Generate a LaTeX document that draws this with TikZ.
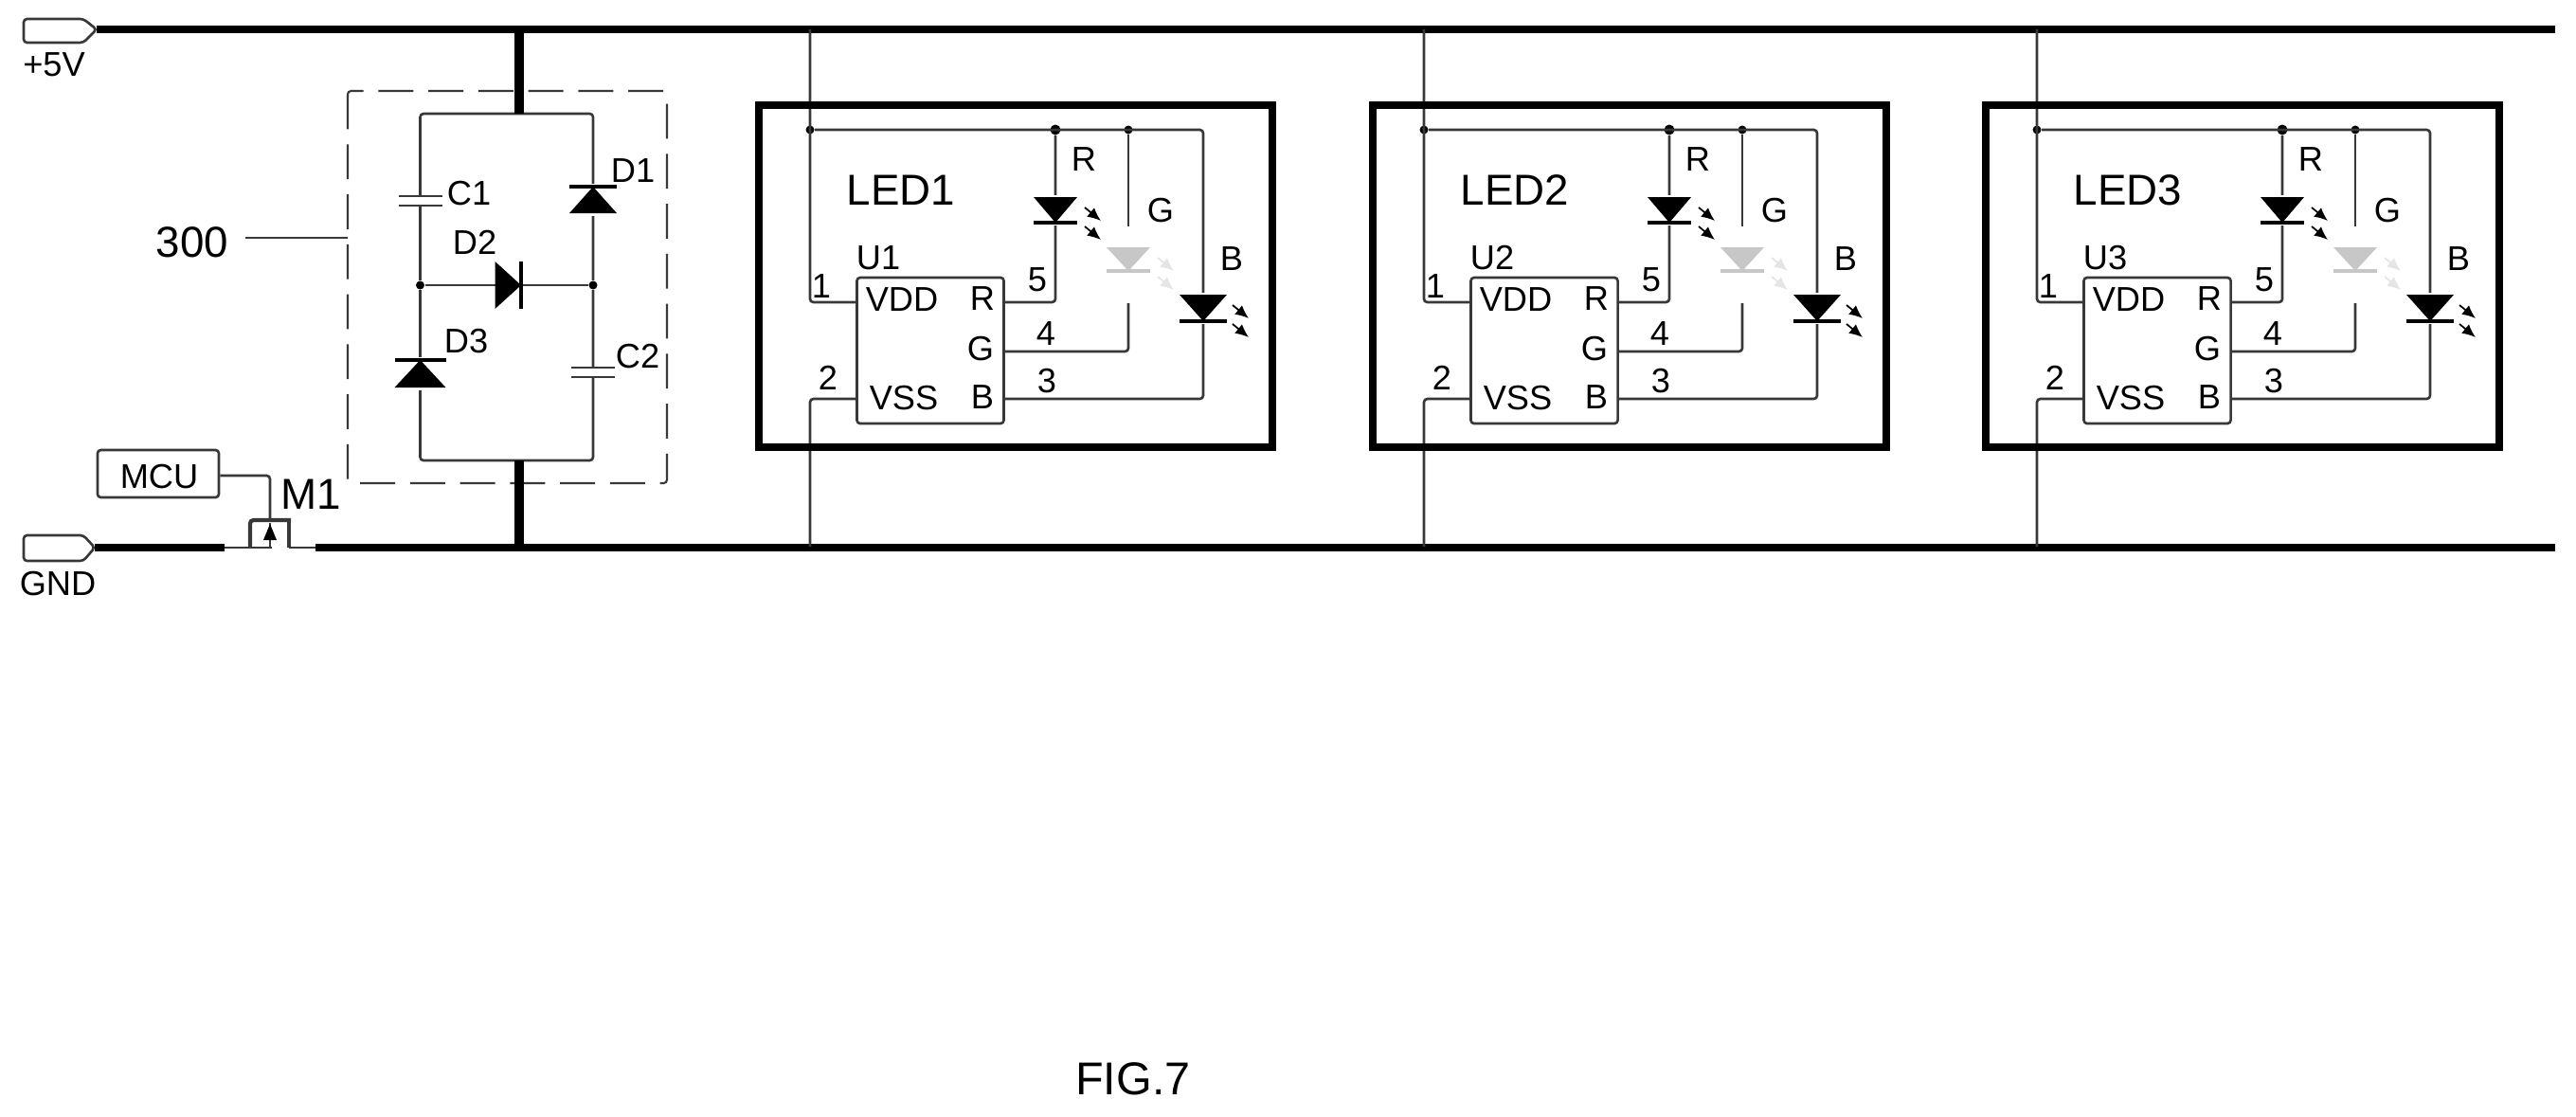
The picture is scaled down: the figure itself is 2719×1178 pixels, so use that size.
\documentclass[tikz,border=0pt]{standalone}
\usepackage{fontspec}
\setmainfont{Liberation Sans}
\usetikzlibrary{arrows.meta}
\colorlet{wirecol}{black!78}
\tikzset{
	wire/.style={draw=wirecol, line width=0.75pt, rounded corners=1pt},
	bus/.style={line width=2.3pt},
	stub/.style={line width=2.9pt},
	dot/.style={circle, fill=black, inner sep=0pt, minimum size=0.09cm},
	cellbox/.style={draw, line width=2.3pt, minimum width=5.42cm, minimum height=3.61cm},
	chip/.style={draw=wirecol, line width=0.75pt, rounded corners=1pt, minimum width=1.55cm, minimum height=1.54cm},
	tagbox/.style={draw=wirecol, line width=0.75pt, rounded corners=1pt},
	lbl/.style={inner sep=0pt, font=\fontsize{10.3}{12}\selectfont},
	biglbl/.style={inner sep=0pt, font=\fontsize{13}{15}\selectfont}
}
\newcommand{\capv}[3] % x, top plate y, bottom plate y
{
	\draw[wirecol, line width=0.75pt] (#1-23,#2) -- (#1+23,#2);
	\draw[wirecol, line width=0.75pt] (#1-23,#3) -- (#1+23,#3);
}
\newcommand{\diodev}[4] % x, bar y, base y, half width
{
	\fill[white] (#1-#4,#2-3) rectangle (#1+#4,#3+3);
	\fill (#1,#2) -- (#1-#4,#3) -- (#1+#4,#3) -- cycle;
	\draw[line width=1.4pt] (#1-#4,#2) -- (#1+#4,#2);
}
\newcommand{\ledsym}[6] % x, base y, bar y, half width, colour, ray colour
{
	\fill[white] (#1-#4,#2-2) rectangle (#1+#4,#3+3);
	\fill[#5] (#1,#3) -- (#1-#4,#2) -- (#1+#4,#2) -- cycle;
	\draw[#5, line width=1.4pt] (#1-#4,#3) -- (#1+#4,#3);
	\draw[#6, line width=0.5pt, -{Latex[length=4pt,width=3.5pt]}] (#1+31,#2+11) -- (#1+48,#2+25);
	\draw[#6, line width=0.5pt, -{Latex[length=4pt,width=3.5pt]}] (#1+31,#2+31) -- (#1+48,#2+45);
}
\newcommand{\ledcell}[2] % x shift, number
{
	% tap points on the rails and chip pins
	\coordinate (top#2) at (#1+855,31);
	\coordinate (bot#2) at (#1+855,577);
	\coordinate (vdd#2) at (#1+905,319);
	\coordinate (vss#2) at (#1+905,421);
	\coordinate (pinr#2) at (#1+1059,319);
	\coordinate (ping#2) at (#1+1059,371);
	\coordinate (pinb#2) at (#1+1059,421);
	\coordinate (corner#2) at (#1+1270,421);
	\coordinate (gup#2) at (#1+1191,239);
	\coordinate (gdn#2) at (#1+1191,320);
	\node[dot] (ja#2) at (#1+855,137) {};
	\node[dot, minimum size=0.11cm] (jb#2) at (#1+1114,137) {};
	\node[dot] (jc#2) at (#1+1191,137) {};
	% wiring
	\draw[wire] (top#2) |- (vdd#2);
	\draw[wire] (bot#2) |- (vss#2);
	\draw[wire] (ja#2) -| (corner#2) -- (pinb#2);
	\draw[wire] (jb#2) |- (pinr#2);
	\draw[wire] (jc#2) -- (gup#2);
	\draw[wire] (gdn#2) |- (ping#2);
	% outer box and chip
	\node[cellbox] (box#2) at (#1+1072,291.5) {};
	\node[chip] (u#2) at (#1+982,370) {};
	% three leds
	\ledsym{#1+1114}{208}{235}{23}{black}{black}
	\ledsym{#1+1191}{261}{286}{23}{black!22}{black!10}
	\ledsym{#1+1270}{311}{339}{25}{black}{black}
	% labels
	\node[biglbl] (name#2) at (#1+951,201) {LED#2};
	\node[lbl] (ulbl#2) at (#1+927,272) {U#2};
	\node[lbl] (lvdd#2) at (#1+952,316) {VDD};
	\node[lbl] (lvss#2) at (#1+954,420) {VSS};
	\node[lbl] (lr#2) at (#1+1037,315) {R};
	\node[lbl] (lg#2) at (#1+1035,368) {G};
	\node[lbl] (lb#2) at (#1+1037,419) {B};
	\node[lbl] (one#2) at (#1+867,302) {1};
	\node[lbl] (two#2) at (#1+874,399) {2};
	\node[lbl] (three#2) at (#1+1105,402) {3};
	\node[lbl] (four#2) at (#1+1104,352) {4};
	\node[lbl] (five#2) at (#1+1095,295) {5};
	\node[lbl] (cr#2) at (#1+1144,168) {R};
	\node[lbl] (cg#2) at (#1+1225,222) {G};
	\node[lbl] (cb#2) at (#1+1300,273) {B};
}
\begin{document}
\begin{tikzpicture}[x=0.01cm, y=-0.01cm]
	\useasboundingbox (0,0) rectangle (2719,1178);

	% supply tags
	\draw[tagbox] (25,20) -- (88,20) -- (102,31) -- (88,45) -- (25,45) -- cycle;
	\draw[tagbox] (25,565) -- (88,565) -- (100,578) -- (88,592) -- (25,592) -- cycle;
	\coordinate (vcc) at (102,31);
	\coordinate (vccend) at (2697,31);
	\coordinate (gnd) at (100,578);
	\coordinate (gndl) at (237,578);
	\coordinate (gndr) at (333,578);
	\coordinate (gndend) at (2697,578);
	\node[lbl] (vcclbl) at (57,68) {+5V};
	\node[lbl] (gndlbl) at (61,616) {GND};

	% rails
	\draw[bus] (vcc) -- (vccend);
	\draw[bus] (gnd) -- (gndl);
	\draw[bus] (gndr) -- (gndend);

	% block 300
	\draw[wirecol, line width=0.6pt, rounded corners=1pt, dash pattern=on 10.5pt off 4.5pt] (367,96) rectangle (704,510);
	\coordinate (stubt) at (548,31);
	\coordinate (stubb) at (548,577);
	\coordinate (nt) at (548,120);
	\coordinate (nb) at (548,486);
	\node[dot] (nl) at (443.5,301) {};
	\node[dot] (nr) at (626,301) {};
	\draw[wire] (nt) -| (nl) |- (nb) -| (nr) |- (nt);
	\draw[wire] (nl) -- (nr);
	\draw[stub] (stubt) -- (nt);
	\draw[stub] (nb) -- (stubb);
	\fill[white] (443.5-3,208) rectangle (443.5+3,216);
	\fill[white] (626-3,389) rectangle (626+3,397);
	\capv{443.5}{207}{217}
	\capv{626}{388}{398}
	\diodev{626}{197}{225}{25}
	\diodev{443.5}{380}{409}{27}
	% D2 lies on its side
	\fill (550,301) -- (522.5,276) -- (522.5,326) -- cycle;
	\draw[line width=1.4pt] (550,276) -- (550,326);
	\node[lbl] (c1) at (495,204) {C1};
	\node[lbl] (c2) at (673,376) {C2};
	\node[lbl] (d1) at (668,180) {D1};
	\node[lbl] (d2) at (501,256) {D2};
	\node[lbl] (d3) at (492,360) {D3};
	\node[biglbl] (blk) at (203,256) {300};
	\coordinate (blkedge) at (367,251);
	\draw[wire] (blk.east |- blkedge) ++(17,0) -- (blkedge);

	% switch
	\node[tagbox, minimum width=1.28cm, minimum height=0.5cm, inner sep=0pt] (mcu) at (167,500) {};
	\node[lbl] (mculbl) at (168,503) {MCU};
	\coordinate (gate) at (285,549);
	\draw[wire] (mcu.east |- 0,502) -| (gate);
	\draw[wirecol, line width=1.2pt, rounded corners=1pt] (264,578) -- (264,549) -- (307,549);
	\draw[wirecol, line width=1.2pt, rounded corners=1pt] (305,549) -- (305,578);
	\draw[wire] (gndl) -- (264,578) -- (287,578);
	\draw[wire] (305,578) -- (gndr);
	\draw[wire] (285,578) -- (285,552);
	\fill (285,553) -- (278,570) -- (292,570) -- cycle;
	\node[biglbl] (m1) at (328,522) {M1};

	% the three cells
	\ledcell{0}{1}
	\ledcell{648}{2}
	\ledcell{1295}{3}

	\node[inner sep=0pt, font=\fontsize{13.8}{16}\selectfont] (fig) at (1196,1139) {FIG.7};
\end{tikzpicture}
\end{document}
